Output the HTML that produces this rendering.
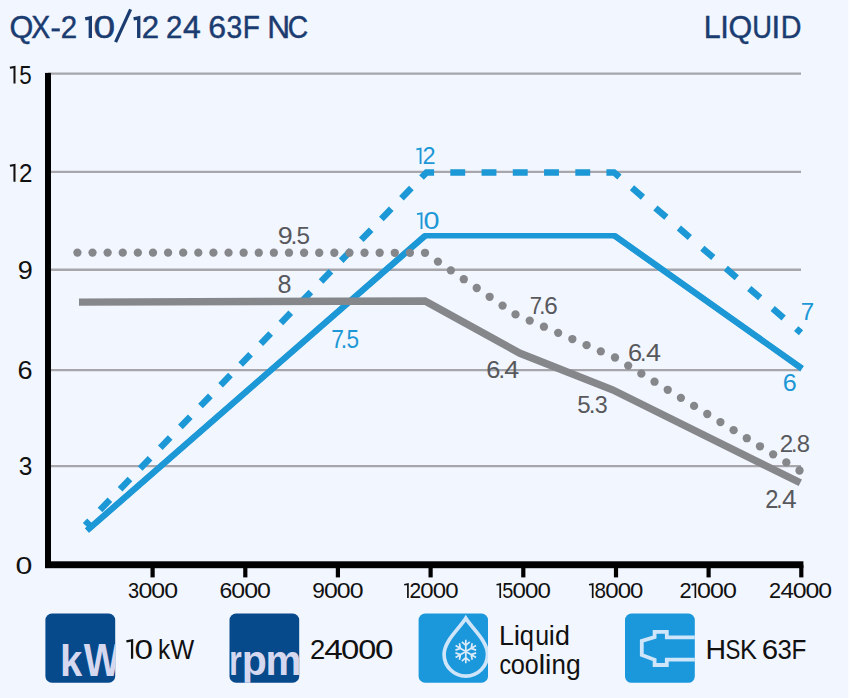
<!DOCTYPE html>
<html><head><meta charset="utf-8"><title>QX-2 10/12 24 63F NC</title>
<style>html,body{margin:0;padding:0;background:#f2f6ff;}body{width:850px;height:698px;overflow:hidden;}svg{display:block;}text{font-family:"Liberation Sans",sans-serif;font-kerning:none;}</style>
</head><body>
<svg width="850" height="698" viewBox="0 0 850 698">
<rect x="0" y="0" width="850" height="698" fill="#f2f6ff"/>
<rect x="848.1" y="0" width="1.9" height="698" fill="#fcfdff"/>
<text transform="translate(9.45,37.90) scale(0.9707,1)" font-size="31.54" fill="#1b3c70" stroke="#1b3c70" stroke-width="0.45">Q</text><text transform="translate(31.16,37.90) scale(0.9000,1)" font-size="31.54" fill="#1b3c70" stroke="#1b3c70" stroke-width="0.45">X</text><text transform="translate(60.72,37.90) scale(0.9326,1)" font-size="31.54" fill="#1b3c70" stroke="#1b3c70" stroke-width="0.45">2</text><path d="M85.20,18.97 L90.32,17.88 L90.32,37.90" fill="none" stroke="#1b3c70" stroke-width="3.36" stroke-linejoin="miter"/><text transform="translate(93.38,37.90) scale(1.2336,1)" font-size="31.54" fill="#1b3c70" stroke="#1b3c70" stroke-width="0.45">0</text><path d="M133.60,18.97 L138.72,17.88 L138.72,37.90" fill="none" stroke="#1b3c70" stroke-width="3.36" stroke-linejoin="miter"/><text transform="translate(141.63,37.90) scale(0.9882,1)" font-size="31.54" fill="#1b3c70" stroke="#1b3c70" stroke-width="0.45">2</text><text transform="translate(166.02,37.90) scale(0.9326,1)" font-size="31.54" fill="#1b3c70" stroke="#1b3c70" stroke-width="0.45">2</text><text transform="translate(183.07,37.90) scale(1.0130,1)" font-size="31.54" fill="#1b3c70" stroke="#1b3c70" stroke-width="0.45">4</text><text transform="translate(208.17,37.90) scale(1.0169,1)" font-size="31.54" fill="#1b3c70" stroke="#1b3c70" stroke-width="0.45">6</text><text transform="translate(226.42,37.90) scale(0.8961,1)" font-size="31.54" fill="#1b3c70" stroke="#1b3c70" stroke-width="0.45">3</text><text transform="translate(242.80,37.90) scale(0.8887,1)" font-size="31.54" fill="#1b3c70" stroke="#1b3c70" stroke-width="0.45">F</text><text transform="translate(267.20,37.90) scale(1.0046,1)" font-size="31.54" fill="#1b3c70" stroke="#1b3c70" stroke-width="0.45">N</text><text transform="translate(287.86,37.90) scale(0.8961,1)" font-size="31.54" fill="#1b3c70" stroke="#1b3c70" stroke-width="0.45">C</text>
<rect x="51.6" y="28.4" width="8.2" height="3" fill="#1b3c70"/>
<line x1="115.6" y1="42.2" x2="130.6" y2="9.4" stroke="#1b3c70" stroke-width="3.2"/>
<text transform="translate(703.81,37.90) scale(0.9770,1)" font-size="31.11" fill="#1b3c70" stroke="#1b3c70" stroke-width="0.45">L</text><text transform="translate(720.13,37.90) scale(0.9997,1)" font-size="31.11" fill="#1b3c70" stroke="#1b3c70" stroke-width="0.45">I</text><text transform="translate(728.56,37.90) scale(0.9796,1)" font-size="31.11" fill="#1b3c70" stroke="#1b3c70" stroke-width="0.45">Q</text><text transform="translate(752.19,37.90) scale(0.8775,1)" font-size="31.11" fill="#1b3c70" stroke="#1b3c70" stroke-width="0.45">U</text><text transform="translate(771.53,37.90) scale(0.9997,1)" font-size="31.11" fill="#1b3c70" stroke="#1b3c70" stroke-width="0.45">I</text><text transform="translate(780.85,37.90) scale(0.9228,1)" font-size="31.11" fill="#1b3c70" stroke="#1b3c70" stroke-width="0.45">D</text>
<line x1="48" y1="73.6" x2="801" y2="73.6" stroke="#a6a6ab" stroke-width="2.4"/>
<line x1="48" y1="171.9" x2="801" y2="171.9" stroke="#a6a6ab" stroke-width="2.4"/>
<line x1="48" y1="269.8" x2="801" y2="269.8" stroke="#a6a6ab" stroke-width="2.4"/>
<line x1="48" y1="370.1" x2="801" y2="370.1" stroke="#a6a6ab" stroke-width="2.4"/>
<line x1="48" y1="466.1" x2="801" y2="466.1" stroke="#a6a6ab" stroke-width="2.4"/>
<path d="M9.90,67.79 L14.49,66.91 L14.49,83.50" fill="none" stroke="#111" stroke-width="2.02" stroke-linejoin="miter"/><text transform="translate(19.20,83.50) scale(0.8739,1)" font-size="25.58" fill="#111">5</text>
<path d="M9.90,165.82 L14.47,164.93 L14.47,181.80" fill="none" stroke="#111" stroke-width="2.06" stroke-linejoin="miter"/><text transform="translate(18.89,181.80) scale(0.9280,1)" font-size="26.02" fill="#111">2</text>
<text transform="translate(17.63,279.00) scale(1.0824,1)" font-size="25.00" fill="#111">9</text>
<text transform="translate(17.52,379.10) scale(1.0590,1)" font-size="25.58" fill="#111">6</text>
<text transform="translate(18.87,475.00) scale(0.9456,1)" font-size="25.87" fill="#111">3</text>
<text transform="translate(15.42,574.00) scale(1.2882,1)" font-size="23.55" fill="#111">0</text>
<polyline fill="none" stroke="#1d98d6" stroke-width="5.5" stroke-linejoin="miter" points="87,530.5 425,235.8 614.6,235.8 802,368.6"/>
<path d="M87,530.5 L425,235.8 M614.6,235.8 L802,368.6" fill="none" stroke="#1d98d6" stroke-width="6.3"/>
<path d="M85.20,525.30 L89.51,520.84 M100.01,509.99 L109.88,499.78 M120.10,489.21 L129.98,479.00 M140.20,468.43 L150.07,458.22 M160.30,447.65 L170.17,437.44 M180.40,426.87 L190.27,416.66 M200.49,406.09 L210.37,395.88 M220.59,385.31 L230.46,375.10 M240.69,364.53 L250.56,354.32 M260.79,343.75 L270.66,333.54 M280.88,322.97 L290.75,312.76 M300.98,302.19 L310.85,291.98 M321.08,281.41 L330.95,271.20 M341.18,260.62 L351.05,250.42 M361.27,239.84 L371.14,229.64 M381.37,219.06 L391.24,208.86 M401.47,198.28 L411.34,188.08 M421.49,177.58 L426.50,172.40 L434.10,172.40 M450.30,172.40 L465.20,172.40 M481.55,172.40 L496.45,172.40 M512.80,172.40 L527.70,172.40 M544.05,172.40 L558.95,172.40 M575.30,172.40 L590.20,172.40 M606.40,172.40 L614.00,172.40 L619.46,177.09 M631.99,187.83 L642.92,197.21 M655.44,207.95 L666.37,217.32 M678.90,228.07 L689.83,237.44 M702.35,248.18 L713.28,257.56 M725.80,268.30 L736.73,277.68 M749.26,288.42 L760.19,297.79 M772.71,308.54 L783.64,317.91 M796.17,328.65 L801.00,332.80" fill="none" stroke="#1d98d6" stroke-width="6.5" stroke-linejoin="miter"/>
<polyline fill="none" stroke="#86878b" stroke-width="7.4" stroke-linejoin="miter" points="79,302.1 425,301.0 520,353.3 612.5,389.8 800.3,482.8"/>
<g fill="#86878b"><circle cx="77.40" cy="252.60" r="4.15"/><circle cx="92.51" cy="252.61" r="4.15"/><circle cx="107.63" cy="252.62" r="4.15"/><circle cx="122.74" cy="252.63" r="4.15"/><circle cx="137.85" cy="252.63" r="4.15"/><circle cx="152.97" cy="252.64" r="4.15"/><circle cx="168.08" cy="252.65" r="4.15"/><circle cx="183.19" cy="252.66" r="4.15"/><circle cx="198.30" cy="252.67" r="4.15"/><circle cx="213.42" cy="252.68" r="4.15"/><circle cx="228.53" cy="252.69" r="4.15"/><circle cx="243.64" cy="252.70" r="4.15"/><circle cx="258.76" cy="252.70" r="4.15"/><circle cx="273.87" cy="252.71" r="4.15"/><circle cx="288.98" cy="252.72" r="4.15"/><circle cx="304.10" cy="252.73" r="4.15"/><circle cx="319.21" cy="252.74" r="4.15"/><circle cx="334.32" cy="252.75" r="4.15"/><circle cx="349.43" cy="252.76" r="4.15"/><circle cx="364.55" cy="252.77" r="4.15"/><circle cx="379.66" cy="252.77" r="4.15"/><circle cx="394.77" cy="252.78" r="4.15"/><circle cx="409.89" cy="252.79" r="4.15"/><circle cx="425.00" cy="252.80" r="4.15"/><circle cx="437.93" cy="261.60" r="4.15"/><circle cx="450.86" cy="270.40" r="4.15"/><circle cx="463.79" cy="279.20" r="4.15"/><circle cx="476.71" cy="288.00" r="4.15"/><circle cx="489.64" cy="296.80" r="4.15"/><circle cx="502.57" cy="305.60" r="4.15"/><circle cx="515.50" cy="314.40" r="4.15"/><circle cx="529.71" cy="320.56" r="4.15"/><circle cx="543.93" cy="326.71" r="4.15"/><circle cx="558.14" cy="332.87" r="4.15"/><circle cx="572.36" cy="339.03" r="4.15"/><circle cx="586.57" cy="345.19" r="4.15"/><circle cx="600.79" cy="351.34" r="4.15"/><circle cx="615.00" cy="357.50" r="4.15"/><circle cx="628.18" cy="365.57" r="4.15"/><circle cx="641.36" cy="373.64" r="4.15"/><circle cx="654.54" cy="381.71" r="4.15"/><circle cx="667.71" cy="389.79" r="4.15"/><circle cx="680.89" cy="397.86" r="4.15"/><circle cx="694.07" cy="405.93" r="4.15"/><circle cx="707.25" cy="414.00" r="4.15"/><circle cx="720.43" cy="422.07" r="4.15"/><circle cx="733.61" cy="430.14" r="4.15"/><circle cx="746.79" cy="438.21" r="4.15"/><circle cx="759.96" cy="446.29" r="4.15"/><circle cx="773.14" cy="454.36" r="4.15"/><circle cx="786.32" cy="462.43" r="4.15"/><circle cx="799.50" cy="470.50" r="4.15"/></g>
<rect x="45" y="72.9" width="6" height="495.1" fill="#000"/>
<rect x="45" y="561.3" width="758.4" height="6.9" fill="#000"/>
<rect x="150.50" y="565" width="4.2" height="12.4" fill="#000"/>
<rect x="243.20" y="565" width="4.2" height="12.4" fill="#000"/>
<rect x="335.80" y="565" width="4.2" height="12.4" fill="#000"/>
<rect x="428.50" y="565" width="4.2" height="12.4" fill="#000"/>
<rect x="521.20" y="565" width="4.2" height="12.4" fill="#000"/>
<rect x="613.90" y="565" width="4.2" height="12.4" fill="#000"/>
<rect x="706.50" y="565" width="4.2" height="12.4" fill="#000"/>
<rect x="799.20" y="565" width="4.2" height="12.4" fill="#000"/>
<text transform="translate(128.04,598.00) scale(0.9272,1)" font-size="21.51" fill="#111">3</text><text transform="translate(138.38,598.00) scale(1.1570,1)" font-size="21.51" fill="#111">0</text><text transform="translate(151.26,598.00) scale(1.1570,1)" font-size="21.51" fill="#111">0</text><text transform="translate(164.13,598.00) scale(1.1570,1)" font-size="21.51" fill="#111">0</text>
<text transform="translate(219.44,598.00) scale(1.0631,1)" font-size="21.51" fill="#111">6</text><text transform="translate(231.28,598.00) scale(1.1601,1)" font-size="21.51" fill="#111">0</text><text transform="translate(244.19,598.00) scale(1.1601,1)" font-size="21.51" fill="#111">0</text><text transform="translate(257.10,598.00) scale(1.1601,1)" font-size="21.51" fill="#111">0</text>
<text transform="translate(312.23,598.00) scale(1.0577,1)" font-size="21.51" fill="#111">9</text><text transform="translate(323.94,598.00) scale(1.1554,1)" font-size="21.51" fill="#111">0</text><text transform="translate(336.79,598.00) scale(1.1554,1)" font-size="21.51" fill="#111">0</text><text transform="translate(349.65,598.00) scale(1.1554,1)" font-size="21.51" fill="#111">0</text>
<path d="M404.20,584.79 L407.91,584.05 L407.91,598.00" fill="none" stroke="#111" stroke-width="1.70" stroke-linejoin="miter"/><text transform="translate(409.62,598.00) scale(0.9757,1)" font-size="21.51" fill="#111">2</text><text transform="translate(420.36,598.00) scale(1.1158,1)" font-size="21.51" fill="#111">0</text><text transform="translate(432.77,598.00) scale(1.1158,1)" font-size="21.51" fill="#111">0</text><text transform="translate(445.19,598.00) scale(1.1158,1)" font-size="21.51" fill="#111">0</text>
<path d="M496.50,584.79 L500.22,584.05 L500.22,598.00" fill="none" stroke="#111" stroke-width="1.70" stroke-linejoin="miter"/><text transform="translate(502.19,598.00) scale(0.9256,1)" font-size="21.51" fill="#111">5</text><text transform="translate(512.55,598.00) scale(1.1189,1)" font-size="21.51" fill="#111">0</text><text transform="translate(525.00,598.00) scale(1.1189,1)" font-size="21.51" fill="#111">0</text><text transform="translate(537.45,598.00) scale(1.1189,1)" font-size="21.51" fill="#111">0</text>
<path d="M589.00,584.79 L592.71,584.05 L592.71,598.00" fill="none" stroke="#111" stroke-width="1.70" stroke-linejoin="miter"/><text transform="translate(594.57,598.00) scale(0.9610,1)" font-size="21.51" fill="#111">8</text><text transform="translate(605.29,598.00) scale(1.1148,1)" font-size="21.51" fill="#111">0</text><text transform="translate(617.69,598.00) scale(1.1148,1)" font-size="21.51" fill="#111">0</text><text transform="translate(630.10,598.00) scale(1.1148,1)" font-size="21.51" fill="#111">0</text>
<text transform="translate(679.50,598.00) scale(1.0160,1)" font-size="21.51" fill="#111">2</text><path d="M691.48,584.79 L695.37,584.05 L695.37,598.00" fill="none" stroke="#111" stroke-width="1.70" stroke-linejoin="miter"/><text transform="translate(697.12,598.00) scale(1.1619,1)" font-size="21.51" fill="#111">0</text><text transform="translate(710.05,598.00) scale(1.1619,1)" font-size="21.51" fill="#111">0</text><text transform="translate(722.98,598.00) scale(1.1619,1)" font-size="21.51" fill="#111">0</text>
<text transform="translate(768.91,598.00) scale(1.0097,1)" font-size="21.51" fill="#111">2</text><text transform="translate(780.41,598.00) scale(1.1235,1)" font-size="21.51" fill="#111">4</text><text transform="translate(792.66,598.00) scale(1.1547,1)" font-size="21.51" fill="#111">0</text><text transform="translate(805.51,598.00) scale(1.1547,1)" font-size="21.51" fill="#111">0</text><text transform="translate(818.36,598.00) scale(1.1547,1)" font-size="21.51" fill="#111">0</text>
<path d="M416.40,149.36 L420.58,148.54 L420.58,164.00" fill="none" stroke="#1d98d6" stroke-width="1.89" stroke-linejoin="miter"/><text transform="translate(422.48,164.00) scale(0.9884,1)" font-size="23.84" fill="#1d98d6">2</text>
<path d="M417.00,214.18 L421.52,213.35 L421.52,229.00" fill="none" stroke="#1d98d6" stroke-width="1.91" stroke-linejoin="miter"/><text transform="translate(423.50,229.00) scale(1.1941,1)" font-size="24.13" fill="#1d98d6">0</text>
<text transform="translate(331.13,348.00) scale(0.9140,1)" font-size="25.00" fill="#1d98d6">7</text><text transform="translate(340.77,348.00) scale(0.9149,1)" font-size="25.00" fill="#1d98d6">.</text><text transform="translate(346.47,348.00) scale(0.9046,1)" font-size="25.00" fill="#1d98d6">5</text>
<text transform="translate(800.76,320.00) scale(1.0405,1)" font-size="23.26" fill="#1d98d6">7</text>
<text transform="translate(782.72,391.00) scale(1.0174,1)" font-size="24.71" fill="#1d98d6">6</text>
<text transform="translate(277.74,243.70) scale(1.0961,1)" font-size="24.56" fill="#58595d">9</text><text transform="translate(290.45,243.70) scale(1.0018,1)" font-size="24.56" fill="#58595d">.</text><text transform="translate(296.59,243.70) scale(0.9905,1)" font-size="24.56" fill="#58595d">5</text>
<text transform="translate(277.51,293.40) scale(1.0059,1)" font-size="25.00" fill="#58595d">8</text>
<text transform="translate(529.87,314.00) scale(0.9284,1)" font-size="23.84" fill="#58595d">7</text><text transform="translate(539.20,314.00) scale(0.9294,1)" font-size="23.84" fill="#58595d">.</text><text transform="translate(544.37,314.00) scale(1.0179,1)" font-size="23.84" fill="#58595d">6</text>
<text transform="translate(486.31,377.80) scale(1.0522,1)" font-size="24.13" fill="#58595d">6</text><text transform="translate(498.39,377.80) scale(0.9607,1)" font-size="24.13" fill="#58595d">.</text><text transform="translate(504.30,377.80) scale(1.1171,1)" font-size="24.13" fill="#58595d">4</text>
<text transform="translate(577.24,413.30) scale(1.0026,1)" font-size="23.98" fill="#58595d">5</text><text transform="translate(588.63,413.30) scale(1.0141,1)" font-size="23.98" fill="#58595d">.</text><text transform="translate(594.77,413.30) scale(0.9712,1)" font-size="23.98" fill="#58595d">3</text>
<text transform="translate(628.01,360.60) scale(1.0849,1)" font-size="23.40" fill="#58595d">6</text><text transform="translate(640.09,360.60) scale(0.9906,1)" font-size="23.40" fill="#58595d">.</text><text transform="translate(646.00,360.60) scale(1.1518,1)" font-size="23.40" fill="#58595d">4</text>
<text transform="translate(779.78,451.60) scale(1.0035,1)" font-size="24.13" fill="#58595d">2</text><text transform="translate(791.10,451.60) scale(0.9603,1)" font-size="24.13" fill="#58595d">.</text><text transform="translate(796.76,451.60) scale(0.9892,1)" font-size="24.13" fill="#58595d">8</text>
<text transform="translate(765.21,508.00) scale(0.9275,1)" font-size="25.58" fill="#58595d">2</text><text transform="translate(776.30,508.00) scale(0.8875,1)" font-size="25.58" fill="#58595d">.</text><text transform="translate(782.09,508.00) scale(1.0320,1)" font-size="25.58" fill="#58595d">4</text>
<defs>
<clipPath id="c1"><rect x="45.4" y="613.6" width="69.8" height="69.1" rx="6.5"/></clipPath>
<clipPath id="c2"><rect x="229.5" y="613.6" width="69.7" height="69.1" rx="6.5"/></clipPath>
<clipPath id="c3"><rect x="418.6" y="613.6" width="69.4" height="69.1" rx="6.5"/></clipPath>
<clipPath id="c4"><rect x="625" y="613.6" width="69.8" height="69.2" rx="6.5"/></clipPath>
</defs>
<rect x="45.4" y="613.6" width="69.8" height="69.1" rx="6.5" fill="#064a8c"/>
<g clip-path="url(#c1)">
<text transform="translate(60.01,676.00) scale(0.8949,1)" font-size="44.71" fill="#d5d8ee" font-weight="bold">k</text>
<text transform="translate(83.66,676.00) scale(0.8254,1)" font-size="46.95" fill="#d5d8ee" font-weight="bold">W</text>
</g>
<path d="M126.40,641.30 L132.08,640.32 L132.08,658.70" fill="none" stroke="#111" stroke-width="2.24" stroke-linejoin="miter"/><text transform="translate(134.60,658.70) scale(1.1735,1)" font-size="28.34" fill="#111">0</text><text transform="translate(158.05,658.70) scale(0.8615,1)" font-size="28.34" fill="#111">k</text><text transform="translate(170.49,658.70) scale(0.8858,1)" font-size="28.34" fill="#111">W</text>
<rect x="229.5" y="613.6" width="69.7" height="69.1" rx="6.5" fill="#064a8c"/>
<g clip-path="url(#c2)">
<text transform="translate(229.04,674.70) scale(0.7743,1)" font-size="42.33" fill="#d5d8ee" font-weight="bold">r</text>
<text transform="translate(241.69,674.70) scale(0.9721,1)" font-size="42.26" fill="#d5d8ee" font-weight="bold">p</text>
<text transform="translate(265.43,674.70) scale(0.9558,1)" font-size="42.33" fill="#d5d8ee" font-weight="bold">m</text>
</g>
<text transform="translate(310.12,658.70) scale(0.9731,1)" font-size="28.20" fill="#111">2</text><text transform="translate(324.33,658.70) scale(1.1823,1)" font-size="28.20" fill="#111">4</text><text transform="translate(341.12,658.70) scale(1.1647,1)" font-size="28.20" fill="#111">0</text><text transform="translate(358.13,658.70) scale(1.1499,1)" font-size="28.20" fill="#111">0</text><text transform="translate(375.00,658.70) scale(1.1796,1)" font-size="28.20" fill="#111">0</text>
<rect x="418.6" y="613.6" width="69.4" height="69.1" rx="6.5" fill="#1b97db"/>
<g clip-path="url(#c3)">
<path d="M465.8,618.3 C459,629 444.1,641 444.1,654.4 A21.7,21.7 0 0 0 487.5,654.4 C487.5,641 472.6,629 465.8,618.3 Z" fill="none" stroke="#cfe5f9" stroke-width="3.7" stroke-linejoin="miter"/>
<path d="M465.80,651.50 L465.80,639.70 M465.80,645.36 L469.75,641.81 M465.80,645.36 L461.85,641.81 M465.80,651.50 L455.58,645.60 M460.49,648.43 L459.38,643.24 M460.49,648.43 L455.44,650.07 M465.80,651.50 L455.58,657.40 M460.49,654.57 L455.44,652.93 M460.49,654.57 L459.38,659.76 M465.80,651.50 L465.80,663.30 M465.80,657.64 L461.85,661.19 M465.80,657.64 L469.75,661.19 M465.80,651.50 L476.02,657.40 M471.11,654.57 L472.22,659.76 M471.11,654.57 L476.16,652.93 M465.80,651.50 L476.02,645.60 M471.11,648.43 L476.16,650.07 M471.11,648.43 L472.22,643.24" fill="none" stroke="#dcebf9" stroke-width="1.7" stroke-linecap="butt"/>
</g>
<text transform="translate(498.90,645.00) scale(0.9540,1)" font-size="28.05" fill="#111">L</text><text transform="translate(513.80,645.00) scale(1.0140,1)" font-size="28.05" fill="#111">i</text><text transform="translate(519.83,645.00) scale(0.9106,1)" font-size="28.05" fill="#111">q</text><text transform="translate(535.28,645.00) scale(0.8895,1)" font-size="28.05" fill="#111">u</text><text transform="translate(548.87,645.00) scale(0.9734,1)" font-size="28.05" fill="#111">i</text><text transform="translate(554.97,645.00) scale(0.9591,1)" font-size="28.05" fill="#111">d</text>
<text transform="translate(499.41,673.90) scale(0.8268,1)" font-size="28.05" fill="#111">c</text><text transform="translate(510.73,673.90) scale(0.9060,1)" font-size="28.05" fill="#111">o</text><text transform="translate(524.65,673.90) scale(0.8909,1)" font-size="28.05" fill="#111">o</text><text transform="translate(538.53,673.90) scale(1.0951,1)" font-size="28.05" fill="#111">l</text><text transform="translate(545.10,673.90) scale(1.0140,1)" font-size="28.05" fill="#111">i</text><text transform="translate(551.38,673.90) scale(0.9231,1)" font-size="28.05" fill="#111">n</text><text transform="translate(565.99,673.90) scale(0.9433,1)" font-size="28.05" fill="#111">g</text>
<rect x="625" y="613.6" width="69.8" height="69.2" rx="6.5" fill="#1b97db"/>
<g clip-path="url(#c4)">
<path d="M696,637.3 H666.8 V631.8 H654.6 V637 L641.8,641 V655 L654.6,659.8 V665 H666.8 V659.6 H696" fill="none" stroke="#cfe5f9" stroke-width="3.8" stroke-linejoin="miter"/>
</g>
<text transform="translate(705.47,659.40) scale(1.0043,1)" font-size="28.34" fill="#111">H</text><text transform="translate(725.39,659.40) scale(0.7845,1)" font-size="28.34" fill="#111">S</text><text transform="translate(740.11,659.40) scale(0.8978,1)" font-size="28.34" fill="#111">K</text><text transform="translate(761.80,659.40) scale(1.0399,1)" font-size="28.34" fill="#111">6</text><text transform="translate(777.52,659.40) scale(0.9079,1)" font-size="28.34" fill="#111">3</text><text transform="translate(791.40,659.40) scale(0.8590,1)" font-size="28.34" fill="#111">F</text>
</svg>
</body></html>
